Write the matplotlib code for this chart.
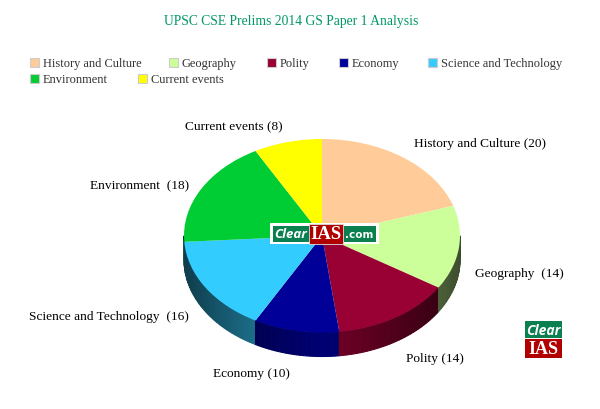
import numpy as np
import matplotlib
matplotlib.use("Agg")
import matplotlib.pyplot as plt
from matplotlib.patches import Rectangle

title = "UPSC CSE Prelims 2014 GS Paper 1 Analysis"
categories = ["History and Culture", "Geography", "Polity", "Economy",
              "Science and Technology", "Environment", "Current events"]
values = [20, 14, 14, 10, 16, 18, 8]
colors = ["#FFCC99", "#CCFF99", "#990033", "#000099", "#33CCFF", "#00CC33", "#FFFF00"]
point_labels = ["History and Culture (20)", "Geography  (14)", "Polity (14)", "Economy (10)",
                "Science and Technology  (16)", "Environment  (18)", "Current events (8)"]

W, H = 600, 410
plt.rcParams["font.family"] = "Liberation Serif"
fig = plt.figure(figsize=(W / 100, H / 100), dpi=100, facecolor="white")

# page overlay in pixel coordinates
page = fig.add_axes([0, 0, 1, 1], zorder=3)
page.set_xlim(0, W); page.set_ylim(H, 0); page.axis("off")

# pie axes: unit circle mapped to the flattened ellipse
L, R, T, B = 184, 460, 140, 333.5
DEPTH = 24 / ((B - T) / 2)
ax = fig.add_axes([L / W, 1 - B / H, (R - L) / W, (B - T) / H], zorder=1)

def shade(c, sx):
    rgb = np.array(matplotlib.colors.to_rgb(c))
    return tuple(rgb * (0.76 - 0.46 * abs(sx)))

edges = np.cumsum([0] + values) / sum(values) * 2 * np.pi
for a0, a1, c in zip(edges[:-1], edges[1:], colors):
    lo, hi = max(a0, np.pi / 2), min(a1, 3 * np.pi / 2)
    if hi <= lo:
        continue
    th = np.linspace(lo, hi, max(int((hi - lo) * 40), 2))
    for i, (t0, t1) in enumerate(zip(th[:-1], th[1:])):
        xs = [np.sin(t0), np.sin(t1), np.sin(t1), np.sin(t0)]
        ys = [np.cos(t0), np.cos(t1), np.cos(t1) - DEPTH, np.cos(t0) - DEPTH]
        col = shade(c, (np.sin(t0) + np.sin(t1)) / 2)
        ax.fill(xs, ys, facecolor=col, edgecolor=col, lw=0.8, clip_on=False, zorder=1 + i * 1e-3)

ax.pie(values, colors=colors, startangle=90, counterclock=False, radius=1,
       wedgeprops=dict(linewidth=0, zorder=5), frame=False)
for w in ax.patches:
    w.set_clip_on(False)
ax.set_aspect("auto")
ax.set_xlim(-1, 1); ax.set_ylim(-1, 1); ax.axis("off")

# title
page.text(291, 21, title, color="#009966", fontsize=9.85, ha="center", va="center")

# legend
legend_pos = [(30, 63), (169, 63), (267, 63), (339, 63), (428, 63), (30, 79.5), (138, 79.5)]
for (x, y), c, n in zip(legend_pos, colors, categories):
    page.add_patch(Rectangle((x, y - 4.5), 9, 9, facecolor=c, edgecolor="#cccccc", lw=0.8))
    page.text(x + 13, y + 0.5, n, color="#333333", fontsize=8.9, ha="left", va="center")

# point labels
label_pos = [(414, 144.5), (475, 274.5), (406, 359.5), (213, 374.5), (29, 317.5), (90, 186.5), (185, 127.5)]
for (x, y), t in zip(label_pos, point_labels):
    page.text(x, y, t, color="black", fontsize=9.65, ha="left", va="center")

# centre logo
page.add_patch(Rectangle((270, 224), 109, 21, facecolor="white", edgecolor="none"))
page.add_patch(Rectangle((273, 227), 103, 16, facecolor="#0A8050", edgecolor="none"))
page.add_patch(Rectangle((309, 224.5), 34, 20, facecolor="#B00000", edgecolor="#dddddd", lw=0.6))
page.text(291, 235, "Clear", color="white", fontsize=9.5, style="italic", weight="bold",
          family="Open Sans", ha="center", va="center")
page.text(326, 234.5, "IAS", color="white", fontsize=13.5, weight="bold", ha="center", va="center")
page.text(359.5, 235, ".com", color="white", fontsize=7.5, weight="bold",
          family="DejaVu Sans", ha="center", va="center")

# corner logo
page.add_patch(Rectangle((525, 322), 37, 17, facecolor="#0A8050", edgecolor="none"))
page.add_patch(Rectangle((525, 340), 37, 19, facecolor="#B00000", edgecolor="none"))
page.text(543.5, 331, "Clear", color="white", fontsize=10, style="italic", weight="bold",
          family="Open Sans", ha="center", va="center")
page.text(543.5, 349.5, "IAS", color="white", fontsize=13, weight="bold", ha="center", va="center")

fig.savefig("out.png", dpi=100, facecolor="white")
